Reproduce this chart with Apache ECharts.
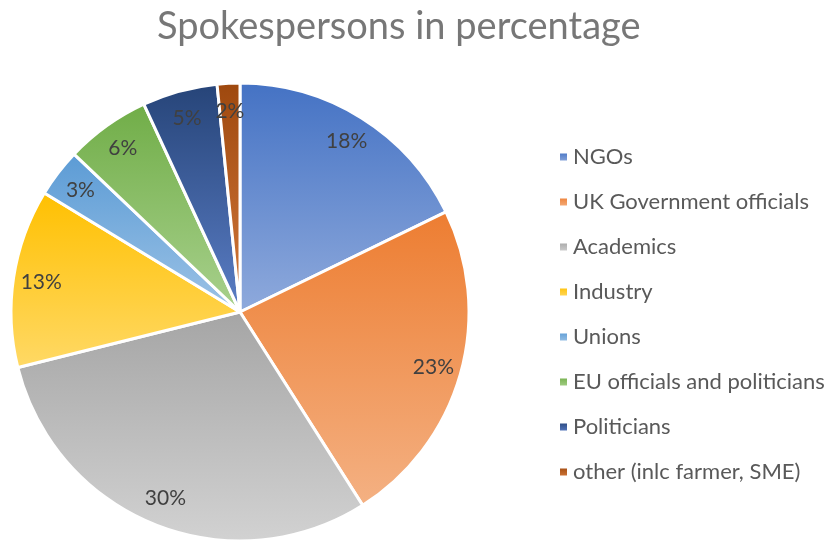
<!DOCTYPE html>
<html><head><meta charset="utf-8">
<script src="https://cdn.jsdelivr.net/npm/echarts@6/dist/echarts.min.js"></script>
<style>html,body{margin:0;padding:0;background:#fff}#c{width:830px;height:541px}</style>
</head><body><div id="c"></div>
<script>
const categories = ['NGOs','UK Government officials','Academics','Industry','Unions','EU officials and politicians','Politicians','other (inlc farmer, SME)'];
const values = [17.8, 23.2, 30.1, 12.6, 3.4, 6.0, 5.3, 1.6];
const topColors = ['#4472C4','#ED7D31','#A5A5A5','#FFC000','#5B9BD5','#70AD47','#264478','#9E480E'];
const bottomColors = ['#8FAADC','#F4B183','#D2D2D2','#FFD966','#9DC3E6','#A9D18E','#5B7EC6','#D47A3C'];

const chart = echarts.init(document.getElementById('c'));
const grad = i => new echarts.graphic.LinearGradient(0,0,0,1,[{offset:0,color:topColors[i]},{offset:1,color:bottomColors[i]}]);
const mainData = categories.map((n,i)=>({name:n,value:values[i],itemStyle:{color:grad(i)}}));
const labelData = categories.map((n,i)=>({name:n,value:values[i],itemStyle:{color:'rgba(0,0,0,0)'}}));
const font = 'Lato, "Open Sans", sans-serif';
chart.setOption({
  animation:false,
  title:{text:'Spokespersons in percentage',left:152,top:3,
    textStyle:{fontFamily:font,fontSize:38,fontWeight:'normal',color:'#777777'}},
  legend:{orient:'vertical',left:553,top:141,itemWidth:9,itemHeight:9,itemGap:23,
    icon:'rect',data:categories,
    textStyle:{fontFamily:font,fontSize:22,color:'#595959',lineHeight:22}},
  series:[
    {type:'pie',center:[240,312],radius:[0,229],startAngle:90,clockwise:true,
     data:mainData,label:{show:false},labelLine:{show:false},
     itemStyle:{borderColor:'#fff',borderWidth:3},emphasis:{disabled:true}},
    {type:'pie',center:[240,312],radius:[178,218],startAngle:90,clockwise:true,silent:true,
     legendHoverLink:false,
     data:labelData,
     label:{show:true,position:'inside',fontFamily:font,fontSize:21,color:'#404040',
       formatter:p=>Math.round(p.percent)+'%'},
     labelLine:{show:false},emphasis:{disabled:true}}
  ]
});
</script></body></html>
